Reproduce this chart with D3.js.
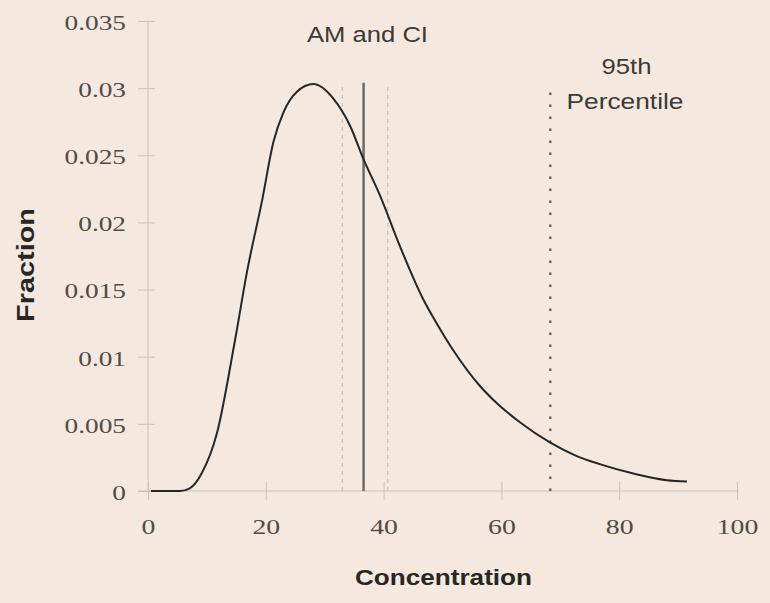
<!DOCTYPE html>
<html>
<head>
<meta charset="utf-8">
<script src="https://cdn.jsdelivr.net/npm/d3@7"></script>
<style>
html,body{margin:0;padding:0;background:#f5e9df;}
svg{display:block;}
</style>
</head>
<body>
<svg id="chart" width="770" height="603"></svg>
<script>
// ---- data ----
const concentration = [0.5, 5.4, 7.1, 9.1, 11.7, 14.8, 16.8, 19.4, 21.3, 23.0, 25.2, 28.1, 31.5, 34.3, 36.6, 39.4, 42.8, 46.7, 49.0, 51.8, 56.4, 58.6, 63.2, 68.3, 72.8, 76.7, 82.4, 88.1, 91.5];
const fraction      = [0, 0, 0.0002, 0.0013, 0.0043, 0.0113, 0.0163, 0.0217, 0.0260, 0.0282, 0.0297, 0.0303, 0.0292, 0.0272, 0.0247, 0.0220, 0.0182, 0.0143, 0.0125, 0.0105, 0.0078, 0.0068, 0.0051, 0.0036, 0.0026, 0.0020, 0.0013, 0.0008, 0.0007];
const xTicks = [0, 20, 40, 60, 80, 100];
const yTicks = [0, 0.005, 0.01, 0.015, 0.02, 0.025, 0.03, 0.035];
const amValue = 36.6;
const ciValues = [33.0, 40.7];
const p95Value = 68.3;
const markerTop = 0.0304;

const svg = d3.select("#chart");
const W = 770, H = 603;
svg.append("rect").attr("width", W).attr("height", H).attr("fill", "#f5e9df");

const x = d3.scaleLinear().domain([0, 100]).range([148, 737]);
const y = d3.scaleLinear().domain([0, 0.035]).range([491, 21]);

function stretch(sel, k) {
  sel.each(function () {
    const len = this.getComputedTextLength();
    this.setAttribute("textLength", len * k);
    this.setAttribute("lengthAdjust", "spacingAndGlyphs");
  });
}

const axisColor = "#cbc2b9";
const tickColor = "#4f4b48";

// x axis
const gx = svg.append("g").attr("transform", `translate(0,${y(0)})`)
  .call(d3.axisBottom(x).tickValues(xTicks).tickFormat(d3.format("d")).tickSize(0).tickPadding(28));
gx.select(".domain").attr("stroke", axisColor).attr("d", `M${x(0) - 10},0H${x(100)}`);
gx.selectAll(".tick line").attr("stroke", axisColor).attr("y1", -9).attr("y2", 9);
gx.selectAll(".tick text").attr("fill", tickColor).attr("font-family", "Liberation Serif, serif").attr("font-size", 21);
stretch(gx.selectAll(".tick text"), 1.32);

// y axis
const gy = svg.append("g").attr("transform", `translate(${x(0)},0)`)
  .call(d3.axisLeft(y).tickValues(yTicks).tickFormat(d => d3.format("")(+d.toFixed(3))).tickSize(0).tickPadding(22));
gy.select(".domain").attr("stroke", axisColor).attr("d", `M0,${y(0)}V${y(0.035)}`);
gy.selectAll(".tick line").attr("stroke", axisColor).attr("x1", -10).attr("x2", 7);
gy.selectAll(".tick text").attr("fill", tickColor).attr("font-family", "Liberation Serif, serif").attr("font-size", 21).attr("dy", "0.4em");
stretch(gy.selectAll(".tick text"), 1.3);

// marker lines
svg.selectAll("line.ci").data(ciValues).enter().append("line")
  .attr("class", "ci")
  .attr("x1", d => x(d)).attr("x2", d => x(d))
  .attr("y1", y(0)).attr("y2", y(markerTop))
  .attr("stroke", "#c9c0b8").attr("stroke-width", 1.3).attr("stroke-dasharray", "4,4");

svg.append("line")
  .attr("x1", x(amValue)).attr("x2", x(amValue))
  .attr("y1", y(0)).attr("y2", y(markerTop))
  .attr("stroke", "#6e6a67").attr("stroke-width", 2.5);

svg.append("line")
  .attr("x1", x(p95Value)).attr("x2", x(p95Value))
  .attr("y1", y(0)).attr("y2", y(0.0302))
  .attr("stroke", "#555").attr("stroke-width", 2.2).attr("stroke-dasharray", "2.5,9.5");

// curve
const pts = concentration.map((c, i) => [c, fraction[i]]);
svg.append("path").datum(pts)
  .attr("fill", "none").attr("stroke", "#262626").attr("stroke-width", 2)
  .attr("d", d3.line().x(d => x(d[0])).y(d => y(d[1])).curve(d3.curveMonotoneX));

// annotations
const ann = [
  {t: "AM and CI", x: 367.5, y: 42, w: 121},
  {t: "95th", x: 626.5, y: 74, w: 50},
  {t: "Percentile", x: 625, y: 109, w: 117}
];
svg.selectAll("text.ann").data(ann).enter().append("text")
  .attr("class", "ann")
  .attr("x", d => d.x).attr("y", d => d.y)
  .attr("text-anchor", "middle")
  .attr("font-family", "Liberation Sans, Arial, sans-serif")
  .attr("font-size", 21.5).attr("fill", "#3a3a3a")
  .attr("textLength", d => d.w).attr("lengthAdjust", "spacingAndGlyphs")
  .text(d => d.t);

// axis titles
svg.append("text")
  .attr("x", 443.5).attr("y", 585)
  .attr("text-anchor", "middle")
  .attr("font-family", "Liberation Sans, Arial, sans-serif")
  .attr("font-weight", "bold").attr("font-size", 22).attr("fill", "#262626")
  .attr("textLength", 177).attr("lengthAdjust", "spacingAndGlyphs")
  .text("Concentration");

svg.append("text")
  .attr("transform", "translate(34,265) rotate(-90)")
  .attr("text-anchor", "middle")
  .attr("font-family", "Liberation Sans, Arial, sans-serif")
  .attr("font-weight", "bold").attr("font-size", 23).attr("fill", "#262626")
  .attr("textLength", 114).attr("lengthAdjust", "spacingAndGlyphs")
  .text("Fraction");
</script>
</body>
</html>
